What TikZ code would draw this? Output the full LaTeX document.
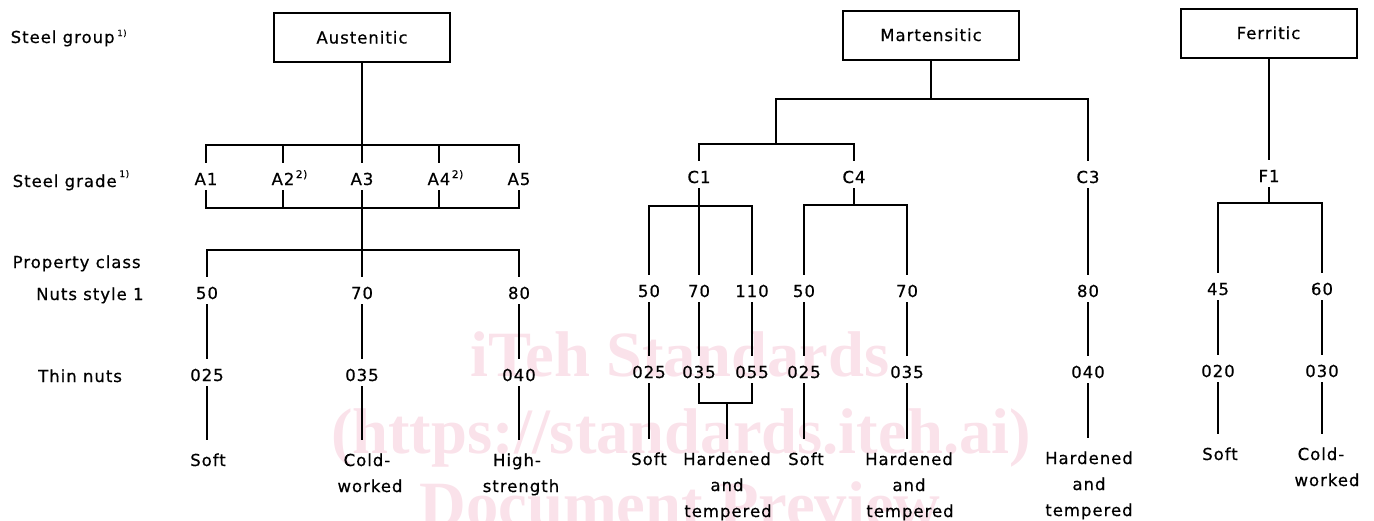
\documentclass[tikz,border=0pt]{standalone}
\usepackage{fontspec}
\setmainfont{DejaVu Sans}[LetterSpace=6, FakeBold=0.6]
\newfontfamily\wmfont{Liberation Serif}
\definecolor{wmpink}{RGB}{250,226,234}
\newcommand\fs{\fontsize{16.5}{20}\selectfont}
\newcommand\fnote[1]{\rlap{\raisebox{7pt}{\fontsize{10.5}{10.5}\selectfont\kern1.5pt #1}}}
\begin{document}
\begin{tikzpicture}[x=1pt,y=-1pt,
  ln/.style={line width=1.6pt},
  grpbox/.style={draw, line width=2pt, minimum width=176pt, minimum height=49pt,
    inner sep=0pt, text height=12pt, text depth=0pt, font=\fs},
  lbl/.style={anchor=base, inner sep=0pt, text height=22pt, text depth=5pt, font=\fs},
  endlbl/.style={lbl, text height=26pt, text depth=0pt},
  txt/.style={anchor=base, inner sep=0pt, font=\fs},
  rowlbl/.style={anchor=base west, inner sep=0pt, font=\fs},
  wm/.style={anchor=base, inner sep=0pt, text=wmpink,
    font=\wmfont\bfseries\fontsize{64.6}{70}\selectfont},
]
\useasboundingbox (0,0) rectangle (1374,520);

% background watermark
\node[wm] (wm1) at (680,376) {iTeh Standards};
\node[wm] (wm2) at (681,453) {(https://standards.iteh.ai)};
\node[wm] (wm3) at (680,526) {Document Preview};

% row captions
\node[rowlbl] (lgroup) at (10.5,43) {Steel group\,\raisebox{7pt}{\fontsize{8.5}{8.5}\selectfont 1)}};
\node[rowlbl] (lgrade) at (12.5,187) {Steel grade\,\raisebox{10pt}{\fontsize{9}{9}\selectfont 1)}};
\node[rowlbl] (lprop) at (12.5,268) {Property class};
\node[rowlbl] (lnuts) at (36,300) {Nuts style 1};
\node[rowlbl] (lthin) at (38,382) {Thin nuts};

% steel groups
\node[grpbox] (aus) at (362,37.5) {Austenitic};
\node[grpbox] (mar) at (931,35) {Martensitic};
\node[grpbox] (fer) at (1268.5,33) {Ferritic};

% ---------------- austenitic ----------------
\node[lbl] (a1) at (206,185) {A1};
\node[lbl] (a2) at (283,185) {A2\fnote{2)}};
\node[lbl] (a3) at (362,185) {A3};
\node[lbl] (a4) at (439,185) {A4\fnote{2)}};
\node[lbl] (a5) at (519,185) {A5};

\node[lbl] (an50) at (207,299) {50};
\node[lbl] (an70) at (362,299) {70};
\node[lbl] (an80) at (519,299) {80};

\node[lbl] (at025) at (207,381) {025};
\node[lbl] (at035) at (362,381) {035};
\node[lbl] (at040) at (519,381) {040};

\node[endlbl] (asoft) at (208,466) {Soft};
\node[endlbl] (acold) at (367,466) {Cold-};
\node[txt] (awork) at (370,492) {worked};
\node[endlbl] (ahigh) at (517,466) {High-};
\node[txt] (astr) at (521,492) {strength};

\coordinate (atop) at (362,145);
\coordinate (abot) at (362,208);
\coordinate (pbar) at (362,250);
\draw[ln] (aus.south) -- (atop);
\draw[ln] (a1.north) |- (atop) -| (a5.north);
\draw[ln] (a2.north) -- (a2.north |- atop);
\draw[ln] (a3.north) -- (atop);
\draw[ln] (a4.north) -- (a4.north |- atop);
\draw[ln] (a1.south) |- (abot) -| (a5.south);
\draw[ln] (a2.south) -- (a2.south |- abot);
\draw[ln] (a4.south) -- (a4.south |- abot);
\draw[ln] (a3.south) -- (an70.north);
\draw[ln] (an50.north) |- (pbar) -| (an80.north);
\draw[ln] (an50.south) -- (at025.north);
\draw[ln] (an70.south) -- (at035.north);
\draw[ln] (an80.south) -- (at040.north);
\draw[ln] (at025.south) -- (at025.south |- asoft.north);
\draw[ln] (at035.south) -- (at035.south |- acold.north);
\draw[ln] (at040.south) -- (at040.south |- ahigh.north);

% ---------------- martensitic ----------------
\node[lbl] (c1) at (699,183) {C1};
\node[lbl] (c4) at (854,183) {C4};
\node[lbl] (c3) at (1088,183) {C3};

\node[lbl] (m50a) at (649,297) {50};
\node[lbl] (m70a) at (699,297) {70};
\node[lbl] (m110) at (752,297) {110};
\node[lbl] (m50b) at (804,297) {50};
\node[lbl] (m70b) at (907,297) {70};
\node[lbl] (m80) at (1088,297) {80};

\node[lbl] (mt025a) at (649,378) {025};
\node[lbl] (mt035a) at (699,378) {035};
\node[lbl] (mt055) at (752,378) {055};
\node[lbl] (mt025b) at (804,378) {025};
\node[lbl] (mt035b) at (907,378) {035};
\node[lbl] (mt040) at (1088,378) {040};

\node[endlbl] (msoft1) at (649,465) {Soft};
\node[endlbl] (mhard1) at (727,465) {Hardened};
\node[txt] (mand1) at (727,491) {and};
\node[txt] (mtemp1) at (728,517) {tempered};
\node[endlbl] (msoft2) at (806,465) {Soft};
\node[endlbl] (mhard2) at (909,465) {Hardened};
\node[txt] (mand2) at (909,491) {and};
\node[txt] (mtemp2) at (910,517) {tempered};
\node[endlbl] (mhard3) at (1089,464) {Hardened};
\node[txt] (mand3) at (1089,490) {and};
\node[txt] (mtemp3) at (1089,516) {tempered};

\coordinate (mtop) at (931,99);
\coordinate (mleft) at (776,99);
\coordinate (cbar) at (776,144);
\coordinate (c1bar) at (699,206);
\coordinate (c4bar) at (854,205);
\coordinate (hjoin) at (727,403);
\draw[ln] (mar.south) -- (mtop);
\draw[ln] (cbar) -- (mleft) -| (c3.north);
\draw[ln] (c1.north) |- (cbar) -| (c4.north);
\draw[ln] (c1.south) -- (m70a.north);
\draw[ln] (m50a.north) |- (c1bar) -| (m110.north);
\draw[ln] (c4.south) -- (c4bar);
\draw[ln] (m50b.north) |- (c4bar) -| (m70b.north);
\draw[ln] (c3.south) -- (m80.north);
\draw[ln] (m50a.south) -- (mt025a.north);
\draw[ln] (m70a.south) -- (mt035a.north);
\draw[ln] (m110.south) -- (mt055.north);
\draw[ln] (m50b.south) -- (mt025b.north);
\draw[ln] (m70b.south) -- (mt035b.north);
\draw[ln] (m80.south) -- (mt040.north);
\draw[ln] (mt025a.south) -- (mt025a.south |- msoft1.north);
\draw[ln] (mt035a.south) |- (hjoin) -| (mt055.south);
\draw[ln] (hjoin) -- (hjoin |- mhard1.north);
\draw[ln] (mt025b.south) -- (mt025b.south |- msoft2.north);
\draw[ln] (mt035b.south) -- (mt035b.south |- mhard2.north);
\draw[ln] (mt040.south) -- (mt040.south |- mhard3.north);

% ---------------- ferritic ----------------
\node[lbl] (f1) at (1269,182) {F1};
\node[lbl] (f45) at (1218,295) {45};
\node[lbl] (f60) at (1322,295) {60};
\node[lbl] (ft020) at (1218,377) {020};
\node[lbl] (ft030) at (1322,377) {030};
\node[endlbl] (fsoft) at (1220,460) {Soft};
\node[endlbl] (fcold) at (1321,460) {Cold-};
\node[txt] (fwork) at (1327,486) {worked};

\coordinate (fbar) at (1269,203);
\draw[ln] (f1.north) -- (f1.north |- fer.south);
\draw[ln] (f1.south) -- (fbar);
\draw[ln] (f45.north) |- (fbar) -| (f60.north);
\draw[ln] (f45.south) -- (ft020.north);
\draw[ln] (f60.south) -- (ft030.north);
\draw[ln] (ft020.south) -- (ft020.south |- fsoft.north);
\draw[ln] (ft030.south) -- (ft030.south |- fcold.north);
\end{tikzpicture}
\end{document}
